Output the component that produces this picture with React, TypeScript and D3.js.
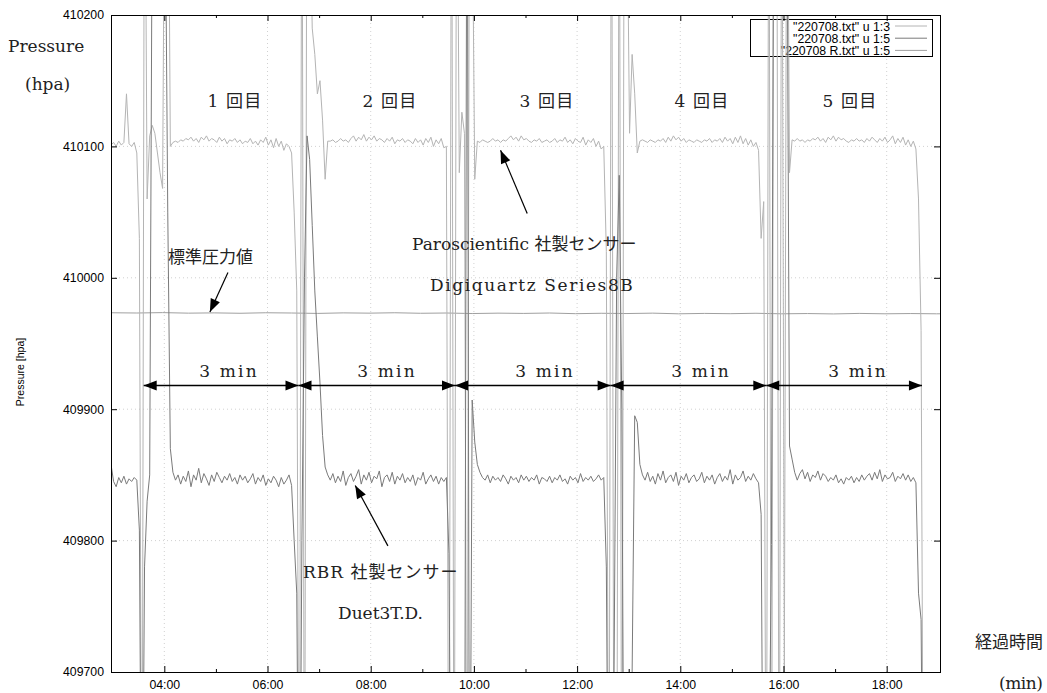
import React, { useEffect, useRef } from 'react';
import * as d3 from 'd3';

// plot frame (gnuplot-like)
const W = 1047;
const H = 693;
const frame = { left: 111, right: 940, top: 15, bottom: 672 };

// samples: one value every 3 s, starting at 178 s
const sampleStart = 178;
const sampleStep = 3;

// "220708.txt" u 1:3  (Paroscientific Digiquartz)
const paroStart = [410101, 410103, 410100, 410104, 410101, 410103, 410140, 410102, 410100, 410103];
const paroT1 = [410095, 410030, 409500, 410400, 410060, 410108, 410116, 410110, 410095, 410080, 410068, 410400, 410400, 410100];
const paroP1 = [
  410103, 410104, 410103, 410105, 410104, 410106, 410105, 410107, 410104, 410106,
  410103, 410107, 410105, 410108, 410104, 410106, 410105, 410103, 410107, 410104,
  410106, 410102, 410105, 410104, 410106, 410103, 410105, 410102, 410104, 410103,
  410106, 410102, 410104, 410101, 410105, 410103, 410107, 410101, 410105, 410099,
  410106, 410100, 410104, 410097, 410102,
];
const paroT2 = [410100, 410095, 410050, 409990, 409500, 410400, 409500, 410400, 410300, 410190, 410170, 410140, 410150, 410120, 410075, 410104];
const paroP2 = [
  410104, 410105, 410103, 410104, 410106, 410104, 410105, 410103, 410106, 410108,
  410104, 410107, 410105, 410109, 410104, 410107, 410105, 410108, 410104, 410106,
  410105, 410103, 410106, 410104, 410107, 410102, 410105, 410104, 410106, 410103,
  410105, 410104, 410102, 410106, 410103, 410105, 410101, 410106, 410103, 410107,
  410100, 410105, 410102, 410106, 410099,
];
const paroT3 = [410100, 409500, 410400, 409500, 410400, 410080, 410126, 410110, 409500, 410400, 410300, 410075];
const paroP3 = [
  410104, 410103, 410105, 410104, 410103, 410104, 410106, 410104, 410105, 410103,
  410105, 410104, 410106, 410108, 410105, 410107, 410104, 410108, 410105, 410106,
  410104, 410103, 410105, 410104, 410106, 410103, 410104, 410105, 410103, 410104,
  410106, 410103, 410105, 410104, 410107, 410103, 410105, 410102, 410106, 410104,
  410103, 410107, 410101, 410105, 410103, 410106, 410100, 410104, 410098,
];
const paroT4 = [410100, 410020, 409500, 410400, 409500, 409500, 410400, 409500, 410400, 410300, 410110, 410170, 410140, 410095];
const paroP4 = [
  410104, 410105, 410104, 410103, 410105, 410104, 410103, 410105, 410104, 410106,
  410103, 410107, 410104, 410108, 410105, 410107, 410104, 410106, 410103, 410105,
  410104, 410103, 410105, 410104, 410103, 410105, 410104, 410106, 410103, 410105,
  410104, 410106, 410103, 410107, 410104, 410106, 410102, 410107, 410103, 410108,
  410102, 410106, 410101, 410105, 410100, 410103, 410097,
];
const paroT5 = [410030, 410058, 409500, 410400, 409500, 410400, 410400, 409500, 410400, 409700, 410400, 410080];
const paroP5 = [
  410105, 410104, 410106, 410104, 410105, 410103, 410105, 410104, 410106, 410105,
  410107, 410104, 410106, 410103, 410107, 410105, 410108, 410104, 410107, 410105,
  410106, 410104, 410103, 410105, 410104, 410106, 410104, 410105, 410103, 410106,
  410104, 410107, 410105, 410103, 410106, 410104, 410107, 410103, 410105, 410108,
  410102, 410106, 410103, 410107, 410101, 410105, 410100, 410104, 410098,
];
const paroT6 = [410060, 409960, 409500, 409500, 409500, 409500, 409500, 409500, 409500];

// "220708.txt" u 1:5  (RBR Duet3)
const rbrStart = [409858, 409845, 409841, 409848, 409844, 409849, 409843, 409847, 409845, 409848];
const rbrT1 = [409846, 409808, 409500, 409780, 409830, 409850, 410300, 410300, 410300, 410300, 410300, 410300, 410050, 409870];
const rbrP1 = [
  409852, 409846, 409850, 409843, 409849, 409845, 409853, 409841, 409850, 409846,
  409855, 409844, 409851, 409847, 409842, 409850, 409845, 409852, 409848, 409844,
  409849, 409846, 409851, 409845, 409848, 409843, 409850, 409846, 409849, 409844,
  409847, 409851, 409843, 409848, 409845, 409850, 409842, 409847, 409844, 409849,
  409846, 409841, 409848, 409843, 409846,
];
const rbrT2 = [409850, 409842, 409800, 409760, 409500, 409800, 410000, 410108, 410090, 410040, 409990, 409955, 409920, 409880, 409856, 409850];
const rbrP2 = [
  409846, 409851, 409844, 409849, 409845, 409853, 409842, 409848, 409851, 409845,
  409849, 409854, 409843, 409850, 409846, 409852, 409844, 409849, 409847, 409853,
  409841, 409848, 409850, 409845, 409852, 409843, 409849, 409846, 409851, 409844,
  409848, 409845, 409850, 409842, 409848, 409846, 409852, 409843, 409847, 409850,
  409845, 409849, 409843, 409848, 409845,
];
const rbrT3 = [409848, 409790, 409500, 409600, 409620, 409580, 409640, 409500, 410400, 409500, 409907, 409875];
const rbrP3 = [
  409858, 409852, 409848, 409846, 409850, 409844, 409849, 409846, 409848, 409845,
  409850, 409847, 409843, 409849, 409846, 409848, 409844, 409850, 409846, 409849,
  409845, 409848, 409846, 409850, 409843, 409848, 409847, 409845, 409849, 409844,
  409848, 409846, 409850, 409845, 409847, 409843, 409849, 409846, 409848, 409844,
  409851, 409845, 409848, 409846, 409849, 409845, 409847, 409850, 409846,
];
const rbrT4 = [409848, 409780, 409500, 409500, 409700, 410000, 410078, 409900, 409500, 409500, 409500, 409700, 409895, 409890];
const rbrP4 = [
  409858, 409850, 409846, 409852, 409845, 409849, 409843, 409851, 409846, 409853,
  409844, 409848, 409850, 409845, 409852, 409842, 409849, 409846, 409851, 409844,
  409848, 409850, 409845, 409847, 409852, 409844, 409849, 409846, 409850, 409843,
  409848, 409851, 409845, 409849, 409846, 409854, 409843, 409850, 409846, 409848,
  409853, 409845, 409849, 409846, 409851, 409847, 409844,
];
const rbrT5 = [409820, 409500, 409500, 409600, 409797, 410400, 410400, 410400, 410400, 410400, 410300, 409872];
const rbrP5 = [
  409862, 409852, 409846, 409851, 409854, 409847, 409852, 409845, 409850, 409848,
  409853, 409846, 409851, 409849, 409845, 409848, 409846, 409850, 409844, 409847,
  409843, 409848, 409846, 409849, 409844, 409848, 409845, 409850, 409846, 409849,
  409851, 409846, 409852, 409847, 409854, 409845, 409850, 409847, 409848, 409852,
  409845, 409849, 409847, 409851, 409846, 409850, 409845, 409848, 409844,
];
const rbrT6 = [409760, 409740, 409500, 409500, 409500, 409500, 409500, 409500, 409500];

// "220708_R.txt" u 1:5  (standard pressure), one value every 30 s
const stdStep = 30;
const stdValues = [
  409973.4, 409973.2, 409973.5, 409973.1, 409973.3, 409973.0, 409973.4, 409973.2, 409972.9, 409973.3,
  409973.1, 409973.4, 409973.0, 409973.2, 409972.8, 409973.1, 409972.9, 409973.2, 409972.7, 409973.0,
  409972.8, 409973.1, 409972.6, 409972.9, 409972.7, 409973.0, 409972.6, 409972.8, 409972.5, 409972.9,
  409972.6, 409972.8, 409972.6, 409972.7,
];

const xMajorTicks = [240, 360, 480, 600, 720, 840, 960, 1080];
const xMinorTicks = [300, 420, 540, 660, 780, 900, 1020];
const yTicks = [409700, 409800, 409900, 410000, 410100, 410200];

const legendLabels = ['"220708.txt" u 1:3', '"220708.txt" u 1:5', '"220708 R.txt" u 1:5'];
const roundLabels = ['1 回目', '2 回目', '3 回目', '4 回目', '5 回目'];
const roundCenters = [235, 390, 547, 702, 850];

// "3 min" double arrows (seconds), drawn at 409918 hPa
const minArrowTimes = [216, 396, 578, 759, 940, 1121];
const minArrowLevel = 409918;
const minLabelCenters = [229, 387, 545, 701, 858];

// pointer arrows [t0, v0, t1, v1]
const pointers = [
  [314, 410004, 293, 409974],
  [662, 410049, 631, 410097],
  [500, 409796, 462, 409842],
];

const colors = { paro: '#b4b4b4', rbr: '#7a7a7a', std: '#a0a0a0' };

const serif = '"DejaVu Serif", "Noto Sans CJK JP", serif';
const sans = '"Liberation Sans", Arial, sans-serif';

const fmtTime = (t) => {
  const m = Math.floor(t / 60);
  const s = Math.round(t % 60);
  return `${String(m).padStart(2, '0')}:${String(s).padStart(2, '0')}`;
};

const App = () => {
  const svgRef = useRef(null);

  useEffect(() => {
    const svg = d3.select(svgRef.current);
    svg.selectAll('*').remove();

    const x = d3.scaleLinear().domain([178, 1142]).range([frame.left, frame.right]);
    const y = d3.scaleLinear().domain([409700, 410200]).range([frame.bottom, frame.top]);

    const paro = [].concat(paroStart, paroT1, paroP1, paroT2, paroP2, paroT3, paroP3, paroT4, paroP4, paroT5, paroP5, paroT6)
      .map((v, i) => [sampleStart + i * sampleStep, v]);
    const rbr = [].concat(rbrStart, rbrT1, rbrP1, rbrT2, rbrP2, rbrT3, rbrP3, rbrT4, rbrP4, rbrT5, rbrP5, rbrT6)
      .map((v, i) => [sampleStart + i * sampleStep, v]);
    const std = stdValues.map((v, i) => [sampleStart + i * stdStep, v]);

    svg.append('rect').attr('width', W).attr('height', H).attr('fill', '#fff');

    svg.append('clipPath').attr('id', 'plot-clip')
      .append('rect')
      .attr('x', frame.left).attr('y', frame.top)
      .attr('width', frame.right - frame.left).attr('height', frame.bottom - frame.top);

    // grid
    const grid = svg.append('g')
      .attr('stroke', '#bdbdbd').attr('stroke-width', 0.7).attr('stroke-dasharray', '1,3');
    xMajorTicks.forEach(t => {
      grid.append('line').attr('x1', x(t)).attr('x2', x(t)).attr('y1', frame.top).attr('y2', frame.bottom);
    });
    yTicks.slice(1, -1).forEach(v => {
      grid.append('line').attr('x1', frame.left).attr('x2', frame.right).attr('y1', y(v)).attr('y2', y(v));
    });

    // legend
    const lg = svg.append('g');
    lg.append('rect').attr('x', 750.5).attr('y', 19.5).attr('width', 182).attr('height', 37)
      .attr('fill', 'none').attr('stroke', '#000').attr('stroke-width', 1);
    const legendColors = [colors.paro, colors.rbr, colors.std];
    legendLabels.forEach((lab, i) => {
      const yy = 26 + i * 12.2;
      lg.append('text').attr('x', 890).attr('y', yy + 4.5).attr('text-anchor', 'end')
        .attr('font-family', sans).attr('font-size', 12.3).attr('fill', '#000').text(lab);
      lg.append('line').attr('x1', 895).attr('x2', 927).attr('y1', yy).attr('y2', yy)
        .attr('stroke', legendColors[i]).attr('stroke-width', 1);
    });

    // data lines
    const line = d3.line().x(d => x(d[0])).y(d => y(d[1]));
    const plot = svg.append('g').attr('clip-path', 'url(#plot-clip)').attr('fill', 'none');
    plot.append('path').datum(std).attr('d', line).attr('stroke', colors.std).attr('stroke-width', 1);
    plot.append('path').datum(paro).attr('d', line).attr('stroke', colors.paro).attr('stroke-width', 1);
    plot.append('path').datum(rbr).attr('d', line).attr('stroke', colors.rbr).attr('stroke-width', 1);

    // axes (inward ticks, mirrored)
    const styleAxis = g => {
      g.select('.domain').remove();
      g.selectAll('line').attr('stroke', '#000');
      g.selectAll('text').attr('font-family', sans).attr('font-size', 12.3).attr('fill', '#000');
    };
    svg.append('g').attr('transform', `translate(0,${frame.bottom})`)
      .call(d3.axisBottom(x).tickValues(xMajorTicks).tickSizeInner(-6).tickSizeOuter(0).tickPadding(8).tickFormat(fmtTime))
      .call(styleAxis);
    svg.append('g').attr('transform', `translate(0,${frame.bottom})`)
      .call(d3.axisBottom(x).tickValues(xMinorTicks).tickSizeInner(-3).tickSizeOuter(0).tickFormat(() => ''))
      .call(styleAxis);
    svg.append('g').attr('transform', `translate(0,${frame.top})`)
      .call(d3.axisTop(x).tickValues(xMajorTicks).tickSizeInner(-6).tickSizeOuter(0).tickFormat(() => ''))
      .call(styleAxis);
    svg.append('g').attr('transform', `translate(0,${frame.top})`)
      .call(d3.axisTop(x).tickValues(xMinorTicks).tickSizeInner(-3).tickSizeOuter(0).tickFormat(() => ''))
      .call(styleAxis);
    svg.append('g').attr('transform', `translate(${frame.left},0)`)
      .call(d3.axisLeft(y).tickValues(yTicks).tickSizeInner(-6).tickSizeOuter(0).tickPadding(7).tickFormat(d3.format('d')))
      .call(styleAxis);
    svg.append('g').attr('transform', `translate(${frame.right},0)`)
      .call(d3.axisRight(y).tickValues(yTicks).tickSizeInner(-6).tickSizeOuter(0).tickFormat(() => ''))
      .call(styleAxis);

    svg.append('rect')
      .attr('x', frame.left + 0.5).attr('y', frame.top + 0.5)
      .attr('width', frame.right - frame.left).attr('height', frame.bottom - frame.top)
      .attr('fill', 'none').attr('stroke', '#000').attr('stroke-width', 1);

    svg.append('text')
      .attr('transform', 'translate(24,372) rotate(-90)')
      .attr('text-anchor', 'middle').attr('font-family', sans).attr('font-size', 10.5)
      .attr('fill', '#000')
      .text('Pressure [hpa]');

    // annotations
    const ann = svg.append('g').attr('font-family', serif).attr('font-size', 17).attr('fill', '#222');
    const label = (tx, ty, s, anchor = 'start', spacing = 0) =>
      ann.append('text').attr('x', tx).attr('y', ty).attr('text-anchor', anchor)
        .attr('letter-spacing', spacing).text(s);

    label(8, 52, 'Pressure');
    label(25, 90, '(hpa)');
    label(975, 648, '経過時間');
    label(999, 689, '(min)', 'start', -0.5);

    roundLabels.forEach((s, i) => label(roundCenters[i], 107, s, 'middle', 1.2));

    label(168, 263, '標準圧力値');
    label(412, 250, 'Paroscientific 社製センサー');
    label(430, 291, 'Digiquartz Series8B', 'start', 1.6);
    label(303, 578, 'RBR 社製センサー', 'start', 1);
    label(338, 619, 'Duet3T.D.');

    const head = (g, x1, y1, x0, y0, len, half) => {
      const a = Math.atan2(y1 - y0, x1 - x0);
      const bx = x1 - len * Math.cos(a);
      const by = y1 - len * Math.sin(a);
      const px = half * Math.sin(a);
      const py = -half * Math.cos(a);
      g.append('polygon')
        .attr('points', `${x1},${y1} ${bx + px},${by + py} ${bx - px},${by - py}`)
        .attr('fill', '#000');
    };

    const arr = svg.append('g');
    const ay = y(minArrowLevel);
    d3.pairs(minArrowTimes).forEach(([a, b], i) => {
      const xa = x(a);
      const xb = x(b);
      arr.append('line').attr('x1', xa).attr('x2', xb).attr('y1', ay).attr('y2', ay)
        .attr('stroke', '#000').attr('stroke-width', 1.4);
      head(arr, xb, ay, xa, ay, 13, 5);
      head(arr, xa, ay, xb, ay, 13, 5);
      label(minLabelCenters[i], ay - 9, '3 min', 'middle', 2.2);
    });

    pointers.forEach(([t0, v0, t1, v1]) => {
      const x0 = x(t0), y0 = y(v0), x1 = x(t1), y1 = y(v1);
      arr.append('line').attr('x1', x0).attr('y1', y0).attr('x2', x1).attr('y2', y1)
        .attr('stroke', '#000').attr('stroke-width', 1.2);
      head(arr, x1, y1, x0, y0, 13, 5);
    });
  }, []);

  return (
    <svg
      ref={svgRef}
      width={W}
      height={H}
      lang="ja"
      style={{ position: 'absolute', left: 0, top: 0, display: 'block' }}
    />
  );
};

export default App;
